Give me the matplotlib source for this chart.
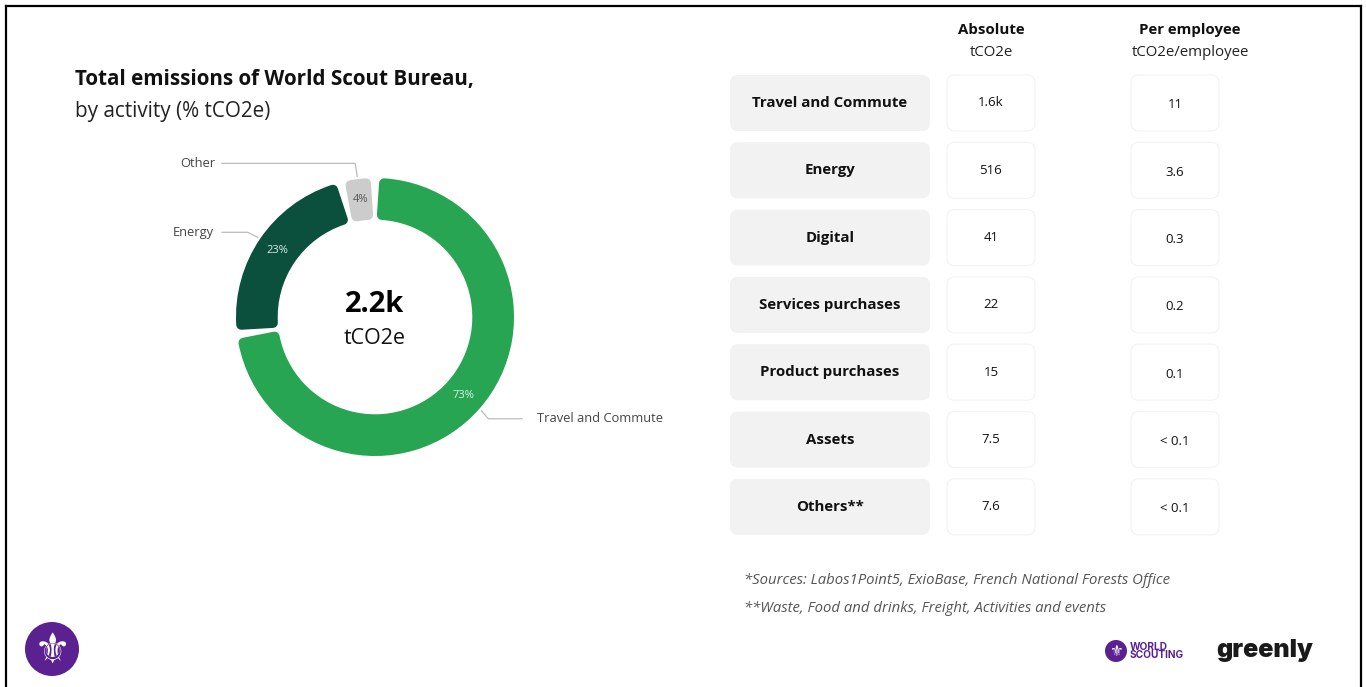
import matplotlib
matplotlib.use("Agg")
import matplotlib.pyplot as plt
import numpy as np
from matplotlib.patches import FancyBboxPatch, Circle
from matplotlib.lines import Line2D

plt.rcParams['font.family'] = ['Open Sans', 'DejaVu Sans']

# ---------------- data ----------------
donut_labels = ["Travel and Commute", "Energy", "Other"]
donut_pcts = [73, 23, 4]
donut_colors = ["#27A553", "#0B503C", "#CCCCCC"]
pct_text_colors = ["#DFF2E4", "#DDEBE5", "#555555"]
total_value = "2.2k"
total_unit = "tCO2e"

title_bold = "Total emissions of World Scout Bureau,"
title_sub = "by activity (% tCO2e)"

categories = ["Travel and Commute", "Energy", "Digital", "Services purchases",
              "Product purchases", "Assets", "Others**"]
absolute = ["1.6k", "516", "41", "22", "15", "7.5", "7.6"]
per_employee = ["11", "3.6", "0.3", "0.2", "0.1", "< 0.1", "< 0.1"]
col_headers = [("Absolute", "tCO2e"), ("Per employee", "tCO2e/employee")]
footnotes = ["*Sources: Labos1Point5, ExioBase, French National Forests Office",
             "**Waste, Food and drinks, Freight, Activities and events"]

# ---------------- figure ----------------
W, H = 1366, 687
fig = plt.figure(figsize=(W / 100, H / 100), dpi=100)
fig.patch.set_facecolor("white")

bg = fig.add_axes([0, 0, 1, 1])
bg.set_xlim(0, W)
bg.set_ylim(H, 0)
bg.axis("off")

# frame border (open at bottom)
for xs, ys in [([6, 6], [6, H + 5]), ([6, 1361], [6, 6]), ([1361, 1361], [6, H + 5])]:
    bg.add_line(Line2D(xs, ys, color="black", lw=1.6, solid_capstyle="projecting"))

# titles
bg.text(75, 79, title_bold, fontsize=14.9, fontweight="bold", color="#111111",
        va="center", ha="left")
bg.text(75, 112, title_sub, fontsize=14.9, color="#222222", va="center", ha="left")

# ---------------- donut ----------------
cx, cy, R = 375, 317, 139.0
half = 160
dax = fig.add_axes([(cx - half) / W, (H - cy - half) / H, 2 * half / W, 2 * half / H])
lim = half / R
wedges, _, autotexts = dax.pie(
    donut_pcts, colors=donut_colors, startangle=90, counterclock=False,
    radius=1.0, autopct="%d%%", pctdistance=0.85,
    wedgeprops=dict(width=0.30), textprops=dict(fontsize=8))
dax.set_xlim(-lim, lim)
dax.set_ylim(-lim, lim)
dax.set_aspect("equal")
dax.axis("off")

# rounded segment corners with white gaps
Lpx = 10.0
gap_px = 6.0
shrink = (Lpx / 2) / R
for w, c in zip(wedges, donut_colors):
    r_mid = w.r - w.width / 2
    dtheta = np.degrees(((gap_px + Lpx) / 2) / (r_mid * R))
    t1, t2 = w.theta1, w.theta2
    w.set_theta1(t1 + dtheta)
    w.set_theta2(t2 - dtheta)
    w.set_radius(w.r - shrink)
    w.set_width(w.width - 2 * shrink)
    w.set_edgecolor(c)
    w.set_linewidth(Lpx * 0.72)
    w.set_joinstyle("round")
for t, col in zip(autotexts, pct_text_colors):
    t.set_color(col)
    t.set_fontsize(8)

dax.text(0, (cy - 304) / R, total_value, ha="center", va="center", fontsize=21,
         fontweight="bold", color="#000000")
dax.text(0, (cy - 339) / R, total_unit, ha="center", va="center", fontsize=15.5,
         color="#111111")

def px2d(x, y):
    return ((x - cx) / R, (cy - y) / R)

# leader lines: elbow offsets (px) and line end / label x
leader_style = {
    "Other": dict(elbow=(-2, -13), end_x=222, text_x=215, ha="right"),
    "Energy": dict(elbow=(-10, -5), end_x=222, text_x=214, ha="right"),
    "Travel and Commute": dict(elbow=(7, 8), end_x=522, text_x=537, ha="left"),
}
for w, lab in zip(wedges, donut_labels):
    mid = np.radians((w.theta1 + w.theta2) / 2)
    ax_px = cx + 1.02 * R * np.cos(mid)
    ay_px = cy - 1.02 * R * np.sin(mid)
    st = leader_style[lab]
    ex, ey = ax_px + st["elbow"][0], ay_px + st["elbow"][1]
    pts = [px2d(ax_px, ay_px), px2d(ex, ey), px2d(st["end_x"], ey)]
    dax.add_line(Line2D([p[0] for p in pts], [p[1] for p in pts], color="#BBBBBB",
                        lw=0.9, clip_on=False))
    tx, ty = px2d(st["text_x"], ey)
    dax.text(tx, ty, lab, ha=st["ha"], va="center", fontsize=9.3, color="#444444",
             clip_on=False)

# ---------------- table ----------------
label_x0, label_x1 = 730, 930
col_centers = [991, 1175]
header_centers = [991, 1190]
col_half = 44
row0, row_step, row_h = 103, 67.3, 56

for (h1, h2), xc in zip(col_headers, header_centers):
    bg.text(xc, 30, h1, ha="center", va="center", fontsize=10.8, fontweight="bold",
            color="#111111")
    bg.text(xc, 53, h2, ha="center", va="center", fontsize=10.8, color="#222222")

for i, (cat, a, p) in enumerate(zip(categories, absolute, per_employee)):
    yc = row0 + i * row_step
    bg.add_patch(FancyBboxPatch((label_x0, yc - row_h / 2), label_x1 - label_x0, row_h,
                                boxstyle="round,pad=0,rounding_size=8",
                                facecolor="#F2F2F2", edgecolor="none"))
    bg.text((label_x0 + label_x1) / 2, yc, cat, ha="center", va="center",
            fontsize=10.8, fontweight="bold", color="#111111")
    for xc, val, dy in zip(col_centers, [a, p], [0, 2]):
        bg.add_patch(FancyBboxPatch((xc - col_half, yc - row_h / 2), 2 * col_half, row_h,
                                    boxstyle="round,pad=0,rounding_size=8",
                                    facecolor="white", edgecolor="#F3F3F3", lw=0.8))
        bg.text(xc, yc + dy, val, ha="center", va="center", fontsize=9.5,
                color="#111111")

for k, fn in enumerate(footnotes):
    bg.text(744, 581 + k * 27, fn, ha="left", va="center", fontsize=10.7,
            style="italic", color="#555555")

# ---------------- logos ----------------
purple = "#5B2191"
bg.add_patch(Circle((52, 649), 27, facecolor=purple, edgecolor="none"))
bg.text(52, 651, "\u269C", ha="center", va="center", fontsize=30, color="white",
        family="DejaVu Sans")
bg.add_patch(Circle((1116, 651), 11, facecolor=purple, edgecolor="none"))
bg.text(1116, 652, "\u269C", ha="center", va="center", fontsize=11, color="white",
        family="DejaVu Sans")
bg.text(1130, 651, "WORLD\nSCOUTING", ha="left", va="center", fontsize=7.3,
        fontweight="bold", color=purple, linespacing=0.85,
        family=["Inter", "DejaVu Sans"])
bg.text(1265, 650, "greenly", ha="center", va="center", fontsize=18,
        fontweight=900, color="#1A1A1A", family=["Inter", "DejaVu Sans"])

fig.savefig("out.png", dpi=100, facecolor="white")
